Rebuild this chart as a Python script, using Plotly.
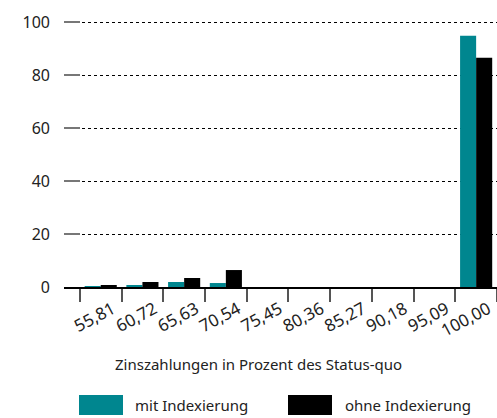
import plotly.graph_objects as go

categories = ["55,81", "60,72", "65,63", "70,54", "75,45", "80,36", "85,27", "90,18", "95,09", "100,00"]
mit_indexierung = [0.2, 0.5, 1.9, 1.5, 0, 0, 0, 0, 0, 94.8]
ohne_indexierung = [0.4, 1.9, 3.4, 6.4, 0, 0, 0, 0, 0, 86.5]
y_ticks = [0, 20, 40, 60, 80, 100]

TEAL = "#00868F"
FONT = "Noto Sans"

fig = go.Figure()
fig.add_trace(go.Bar(x=categories, y=mit_indexierung, name="mit Indexierung",
                     marker=dict(color=TEAL, line=dict(width=0)), showlegend=False))
fig.add_trace(go.Bar(x=categories, y=ohne_indexierung, name="ohne Indexierung",
                     marker=dict(color="#000000", line=dict(width=0)), showlegend=False))

W, H = 497, 418
ml, mr, mt, mb = 64, 0, 21, 131

fig.update_layout(
    width=W, height=H,
    margin=dict(l=ml, r=mr, t=mt, b=mb),
    paper_bgcolor="white", plot_bgcolor="white",
    barmode="group", bargap=0.23, bargroupgap=0,
    font=dict(family=FONT, size=15, color="#222"),
    xaxis=dict(
        type="category", range=[-0.88, 9.5],
        tickson="boundaries", ticks="outside", ticklen=13, tickwidth=1.5, tickcolor="#555",
        tickangle=-28, tickfont=dict(size=17, color="#222"),
        ticklabelshift=12, ticklabelstandoff=4,
        showline=True, linecolor="#000", linewidth=1.5,
        showgrid=False, zeroline=False,
    ),
    yaxis=dict(
        range=[0, 100.4], tickvals=y_ticks,
        ticks="inside", ticklen=16, tickcolor="#777", tickwidth=1.5,
        tickfont=dict(size=16, color="#222"), ticklabelstandoff=13,
        showgrid=True, gridcolor="#000", gridwidth=1, griddash="3px,3px",
        zeroline=False, showline=False,
    ),
)

# x-axis title
fig.add_annotation(text="Zinszahlungen in Prozent des Status-quo", xref="paper", yref="paper",
                   x=(258 - ml) / (W - ml - mr), y=-(364 - (H - mb)) / (H - mt - mb),
                   showarrow=False, font=dict(size=15, color="#222"), xanchor="center", yanchor="middle")

# legend
def px_x(x):
    return (x - ml) / (W - ml - mr)

def px_y(y):
    return ((H - mb) - y) / (H - mt - mb)

for (x0, x1, tx, color, label) in [(79, 123, 133, TEAL, "mit Indexierung"),
                                   (288, 332, 343, "#000000", "ohne Indexierung")]:
    fig.add_shape(type="rect", xref="paper", yref="paper",
                  x0=px_x(x0), x1=px_x(x1), y0=px_y(415), y1=px_y(395),
                  fillcolor=color, line=dict(width=0))
    fig.add_annotation(text=label, xref="paper", yref="paper", x=px_x(tx), y=px_y(405),
                       xanchor="left", yanchor="middle", showarrow=False,
                       font=dict(size=15, color="#222"))

fig.write_html("out.html", config={"displayModeBar": False})

with open("out.html", "r", encoding="utf-8") as f:
    html = f.read()
html = html.replace("<head>", "<head><style>html,body{margin:0;padding:0;overflow:hidden;}</style>", 1)
with open("out.html", "w", encoding="utf-8") as f:
    f.write(html)
